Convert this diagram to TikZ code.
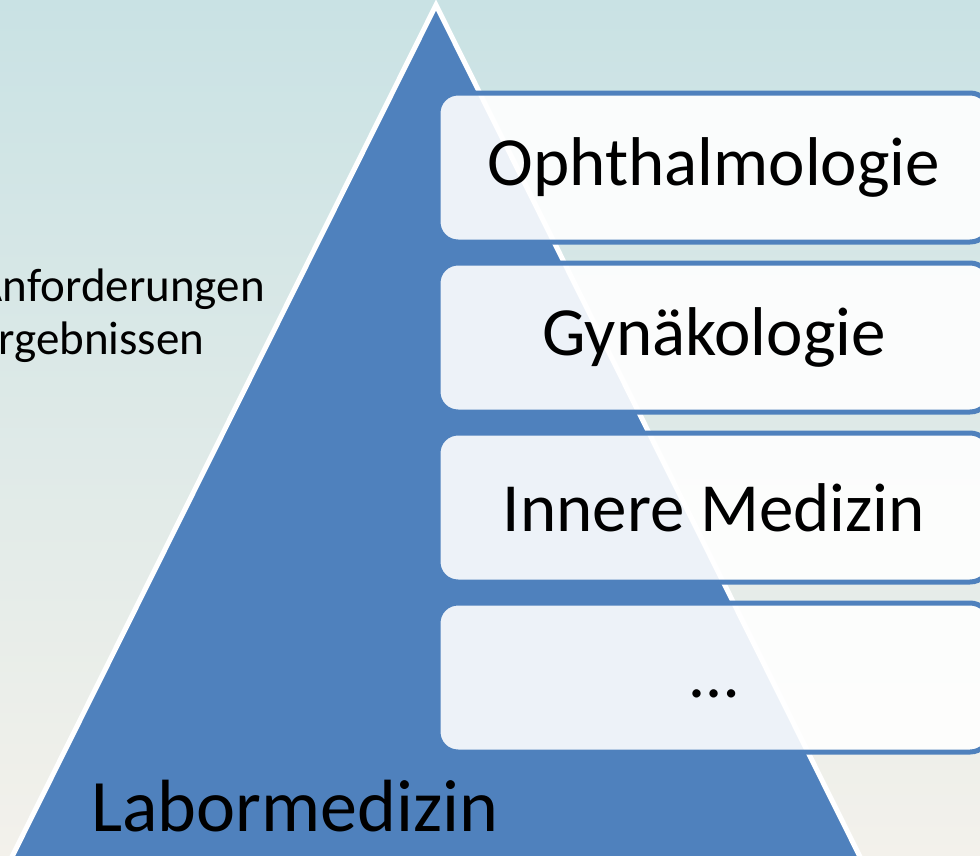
\documentclass[tikz,border=0pt]{standalone}
\usepackage{fontspec}
\setmainfont{Carlito}
\usepackage{tikz}

\definecolor{pyrblue}{RGB}{79,129,189}
\definecolor{bgtop}{RGB}{201,226,228}
\definecolor{bgbot}{RGB}{243,241,235}

\begin{document}
\begin{tikzpicture}[x=1pt,y=-1pt,
  fach/.style={draw=pyrblue,line width=5pt,fill=white,fill opacity=0.9,text opacity=1,
    rounded corners=20pt,minimum width=552pt,minimum height=149pt,inner sep=0pt,
    font=\fontsize{69}{80}\selectfont}]
\useasboundingbox (0,0) rectangle (980,855);
\clip (0,0) rectangle (980,855);
\shade[top color=bgtop,bottom color=bgbot] (0,0) rectangle (980,855);
\node[anchor=west,align=left,font=\fontsize{47}{53}\selectfont] (anf) at (-28,316) {Anforderungen\\Ergebnissen};
\draw[white,line width=5pt,fill=pyrblue,line join=miter] (436,5) -- (-17,915) -- (889,915) -- cycle;
\node[fach] (oph) at (714,167.5) {Ophthalmologie};
\node[fach] (gyn) at (714,337.5) {Gynäkologie};
\node[fach] (inn) at (714,507.5) {Innere Medizin};
\node[fach] (more) at (714,677.5) {\vphantom{Ag}\raisebox{-4pt}{…}};
\node[font=\fontsize{74}{86}\selectfont] (lab) at (295,806) {Labormedizin};
\end{tikzpicture}
\end{document}
